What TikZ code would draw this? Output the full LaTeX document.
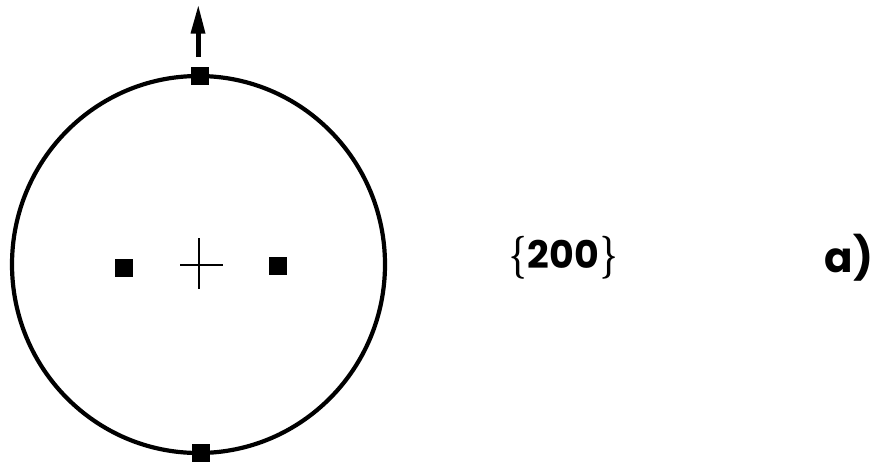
\documentclass[tikz,border=0pt]{standalone}
\usepackage{graphicx}
\usepackage{fontspec}
\setmainfont{Poppins}
\usetikzlibrary{arrows.meta}
\newcommand{\bracel}{\scalebox{3.0}[4.3]{\boldmath$\{$}}
\newcommand{\bracer}{\scalebox{3.0}[4.3]{\boldmath$\}$}}
\newcommand{\lbltext}{\bracel\hspace{1pt}{\fontsize{38}{38}\selectfont\bfseries 200}\hspace{1pt}\bracer}
\begin{document}
\begin{tikzpicture}[x=1pt,y=-1pt,
  spot/.style={fill=black,draw=none,minimum size=17.5pt,inner sep=0pt,outer sep=0pt,rectangle},
  ring/.style={line width=4.2pt},
  crossline/.style={line width=1.8pt}]
\useasboundingbox (0,0) rectangle (879,467);
\draw[ring] (198.5,264.5) ellipse [x radius=186.5, y radius=188.5];
\node[spot] (top) at (200,76) {};
\node[spot] (bot) at (201,453) {};
\node[spot] (left) at (124,268) {};
\node[spot] (right) at (278,266) {};
\coordinate (c) at (199,265);
\draw[crossline] (180,265) -- (223,265);
\draw[crossline] (199,238) -- (199,289);
\coordinate (tip) at (198.3,6);
\coordinate (base) at (198.3,57);
\draw[line width=5pt] (base) -- (198.3,30);
\fill (tip) -- (205.5,33.5) -- (190.5,33.5) -- cycle;
\node[inner sep=0pt, anchor=base] (lbl) at (563.5,268) {\lbltext};
\node[font=\fontsize{42}{42}\selectfont\bfseries, inner sep=0pt] (a) at (849,258) {a)};
\end{tikzpicture}
\end{document}
